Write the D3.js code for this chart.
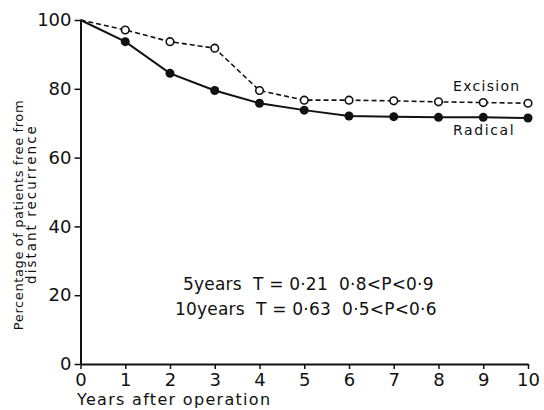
<!DOCTYPE html>
<html><head><meta charset="utf-8">
<script src="https://cdn.jsdelivr.net/npm/d3@7"></script>
<style>body{margin:0;background:#fff}svg{display:block}text{font-family:"DejaVu Sans",sans-serif;fill:#111}</style>
</head><body><svg id="c" width="544" height="410"></svg>
<script>
const years = [0,1,2,3,4,5,6,7,8,9,10];
const excision = [100,97.1,93.7,91.8,79.5,76.7,76.7,76.5,76.2,76.0,75.8];
const radical = [100,93.7,84.5,79.5,75.8,73.8,72.1,71.9,71.7,71.7,71.5];
const yTicks = [0,20,40,60,80,100];
const xTicks = [0,1,2,3,4,5,6,7,8,9,10];
const notes = ["5years  T = 0·21  0·8<P<0·9","10years  T = 0·63  0·5<P<0·6"];

const svg = d3.select("#c");
const x = d3.scaleLinear().domain([0,10]).range([80.5,528]);
const y = d3.scaleLinear().domain([0,100]).range([364,20]);

const gx = svg.append("g").attr("transform","translate(0,364)")
  .call(d3.axisBottom(x).tickValues(xTicks).tickSize(5).tickPadding(4).tickSizeOuter(0));
const gy = svg.append("g").attr("transform","translate(80.5,0)")
  .call(d3.axisLeft(y).tickValues(yTicks).tickSize(6).tickPadding(3).tickSizeOuter(0));
[gx,gy].forEach(g=>{
  g.select(".domain").attr("stroke","#111").attr("stroke-width",2);
  g.selectAll(".tick line").attr("stroke","#111").attr("stroke-width",1.5);
  g.selectAll(".tick text").attr("font-size",18).attr("fill","#111").attr("font-family","DejaVu Sans, sans-serif");
});

const line = d3.line().x((d,i)=>x(years[i])).y(d=>y(d));
svg.append("path").datum(excision).attr("d",line).attr("fill","none")
  .attr("stroke","#111").attr("stroke-width",1.6).attr("stroke-dasharray","5,3");
svg.append("path").datum(radical).attr("d",line).attr("fill","none")
  .attr("stroke","#111").attr("stroke-width",2);

svg.selectAll(".ro").data(radical.slice(1)).enter().append("circle")
  .attr("cx",(d,i)=>x(years[i+1])).attr("cy",d=>y(d)).attr("r",4.5).attr("fill","#111");
svg.selectAll(".eo").data(excision.slice(1)).enter().append("circle")
  .attr("cx",(d,i)=>x(years[i+1])).attr("cy",d=>y(d)).attr("r",3.8)
  .attr("fill","#fff").attr("stroke","#111").attr("stroke-width",1.6);

svg.append("text").attr("x",453).attr("y",91).attr("font-size",14).attr("letter-spacing",1.3).text("Excision");
svg.append("text").attr("x",453).attr("y",135).attr("font-size",14).attr("letter-spacing",1.6).text("Radical");

svg.selectAll(".note").data(notes).enter().append("text")
  .attr("x",(d,i)=>i===0?183:175).attr("y",(d,i)=>290+i*25).attr("font-size",17).attr("letter-spacing",0.2)
  .attr("xml:space","preserve").style("white-space","pre").text(d=>d);

svg.append("text").attr("x",77).attr("y",405).attr("font-size",16).attr("letter-spacing",1.3).text("Years after operation");

svg.append("text").attr("transform","translate(23,215) rotate(-90)").attr("text-anchor","middle")
  .attr("font-size",13).attr("letter-spacing",0.6).text("Percentage of patients free from");
svg.append("text").attr("transform","translate(36,204) rotate(-90)").attr("text-anchor","middle")
  .attr("font-size",13.5).attr("letter-spacing",2).text("distant recurrence");
</script></body></html>
